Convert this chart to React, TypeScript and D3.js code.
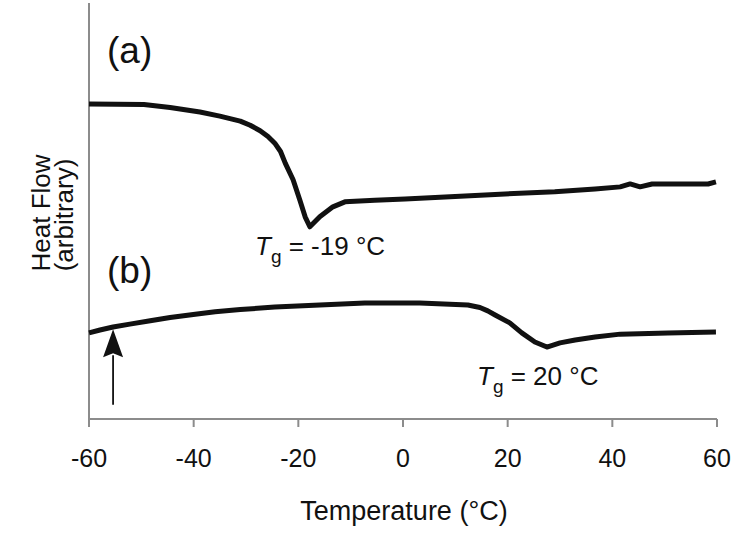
import React from "react";
import * as d3 from "d3";

// temperature (°C) vs heat flow (arbitrary units, 0..100 over the axis height)
const curveA: [number, number][] = [
  [-60, 75.7], [-49.5, 75.6], [-44.5, 74.9], [-38.8, 73.8], [-35, 72.8],
  [-31.1, 71.6], [-29.2, 70.6], [-27.3, 69.3], [-25.8, 67.9], [-24.5, 66.3],
  [-23.4, 64.3], [-22.5, 61.5], [-21.0, 57.5], [-19.7, 52.6], [-18.7, 48.6],
  [-17.8, 46.2], [-15.9, 48.6], [-13.4, 51.0], [-11.1, 52.2], [-5.4, 52.6],
  [0.4, 52.9], [9, 53.4], [19.5, 54.1], [29, 54.6], [36.7, 55.3],
  [41.5, 55.8], [43.4, 56.5], [45.3, 55.8], [47.6, 56.5], [58.3, 56.5], [59.8, 57.0],
];

const curveB: [number, number][] = [
  [-60, 20.7], [-57.9, 21.4], [-55.4, 22.1], [-52.2, 22.8], [-48.3, 23.6],
  [-44.5, 24.4], [-39.7, 25.2], [-35.9, 25.8], [-31.1, 26.3], [-24.5, 26.9],
  [-15.9, 27.4], [-7.3, 27.9], [3.2, 27.9], [12.4, 27.4], [14.7, 26.8],
  [16.2, 26.0], [17.6, 25.0], [20.4, 23.1], [22.7, 20.7], [25.2, 18.5],
  [27.5, 17.3], [30.0, 18.3], [32.9, 19.0], [36.7, 19.7], [41.5, 20.4],
  [50.6, 20.7], [59.8, 20.9],
];

const xTicks = [-60, -40, -20, 0, 20, 40, 60];

// arrow marking onset on curve (b)
const arrowT = -55.4;
const arrowFrom = 3.4;
const arrowTo = 21.6;

const W = 750;
const H = 543;
const font = "'Liberation Sans', Arial, Helvetica, sans-serif";
const axisColor = "#8c8c8c";

export default function App() {
  const x = d3.scaleLinear().domain([-60, 60]).range([89, 717]);
  const y = d3.scaleLinear().domain([0, 100]).range([419, 3]);

  const line = d3
    .line<[number, number]>()
    .x((d) => x(d[0]))
    .y((d) => y(d[1]));

  const ax = x(arrowT);
  const tipY = y(arrowTo);
  const headLen = 28;
  const headHalf = 10;

  return (
    <svg
      width={W}
      height={H}
      style={{ position: "absolute", left: 0, top: 0, background: "#fff" }}
      fontFamily={font}
    >
      {/* axes */}
      <line x1={x(-60)} x2={x(-60)} y1={y(100)} y2={y(0)} stroke={axisColor} strokeWidth={2} />
      <line x1={x(-60)} x2={x(60)} y1={y(0)} y2={y(0)} stroke={axisColor} strokeWidth={2} />
      {xTicks.map((t) => (
        <g key={t}>
          <line x1={x(t)} x2={x(t)} y1={y(0)} y2={y(0) + 8} stroke={axisColor} strokeWidth={2} />
          <text x={x(t)} y={467} textAnchor="middle" fontSize={25} fill="#111">
            {t}
          </text>
        </g>
      ))}

      {/* curves */}
      <path d={line(curveA) || ""} fill="none" stroke="#111" strokeWidth={5} strokeLinejoin="round" />
      <path d={line(curveB) || ""} fill="none" stroke="#111" strokeWidth={5} strokeLinejoin="round" />

      {/* arrow */}
      <line x1={ax} x2={ax} y1={y(arrowFrom)} y2={tipY + headLen - 2} stroke="#111" strokeWidth={1.8} />
      <path
        d={`M${ax},${tipY} L${ax - headHalf},${tipY + headLen} L${ax},${tipY + headLen - 4} L${ax + headHalf},${tipY + headLen} Z`}
        fill="#111"
      />

      {/* panel labels */}
      <text x={107} y={63} fontSize={37} fill="#111">(a)</text>
      <text x={107} y={283} fontSize={37} fill="#111">(b)</text>

      {/* Tg annotations */}
      <text x={255} y={255} fontSize={26} fill="#111">
        <tspan fontStyle="italic">T</tspan>
        <tspan fontSize={19} dy={8}>g</tspan>
        <tspan dy={-8}> = -19 °C</tspan>
      </text>
      <text x={477} y={385} fontSize={26} fill="#111">
        <tspan fontStyle="italic">T</tspan>
        <tspan fontSize={19} dy={8}>g</tspan>
        <tspan dy={-8}> = 20 °C</tspan>
      </text>

      {/* axis titles */}
      <text x={404} y={520} textAnchor="middle" fontSize={27} fill="#111">
        Temperature (°C)
      </text>
      <text transform="translate(50,213) rotate(-90)" textAnchor="middle" fontSize={26} fill="#111">
        Heat Flow
      </text>
      <text transform="translate(73,215) rotate(-90)" textAnchor="middle" fontSize={26} fill="#111">
        (arbitrary)
      </text>
    </svg>
  );
}
